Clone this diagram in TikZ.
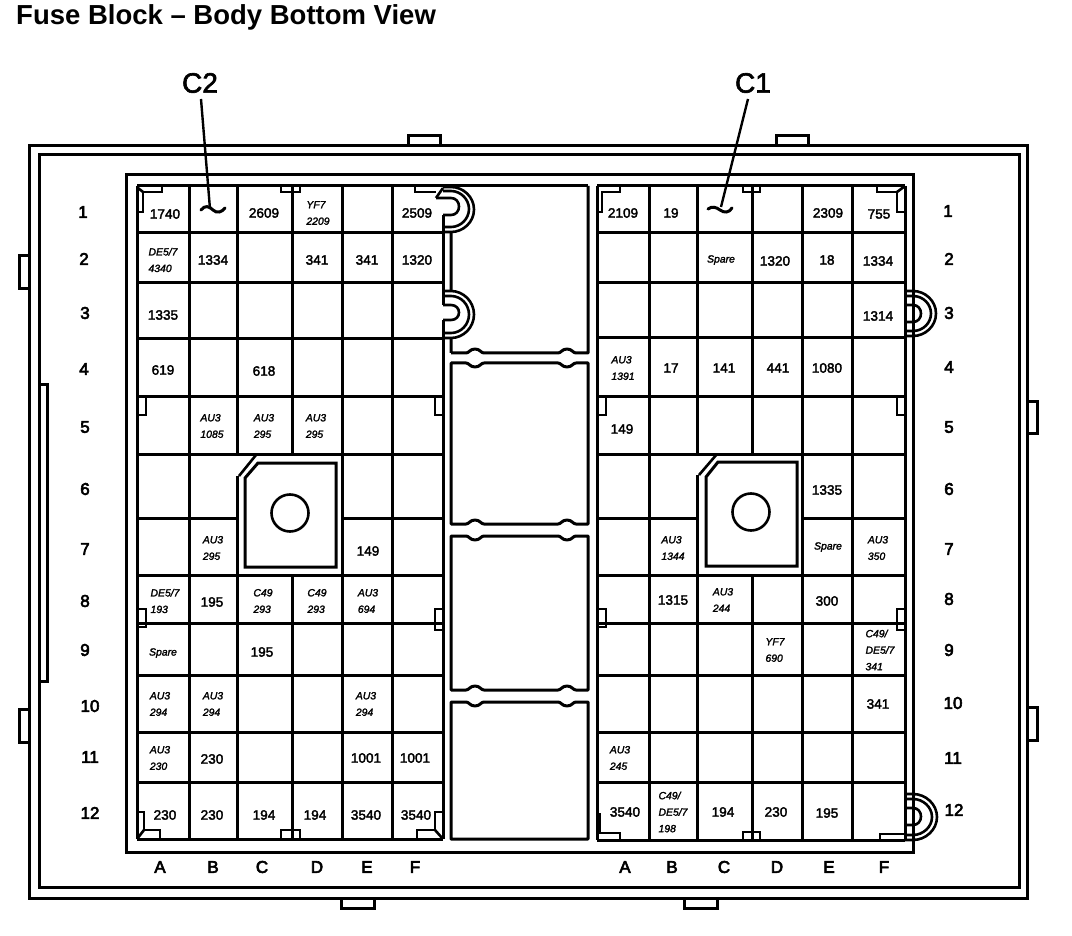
\documentclass[tikz,border=0pt]{standalone}
\usepackage{fontspec}
\setmainfont{Liberation Sans}
\newfontfamily\cellfont[FakeBold=2.4]{Liberation Sans}
\newfontfamily\italfont[FakeBold=2.0]{Liberation Sans}
\newfontfamily\labfont[FakeBold=3.6]{Liberation Sans}
\newfontfamily\connfont[FakeBold=2.2]{Liberation Sans}
\tikzset{
  ln/.style={draw=black,line width=3pt,line join=miter},
  thin ln/.style={draw=black,line width=2.6pt,line join=miter},
  num/.style={font=\cellfont\fontsize{13.6}{16}\selectfont,inner sep=0pt,text=black},
  ital/.style={font=\italfont\itshape\fontsize{10.4}{16.5}\selectfont,inner sep=0pt,align=left,text=black},
  lab/.style={font=\labfont\fontsize{17}{20}\selectfont,inner sep=0pt,text=black},
  conn/.style={font=\connfont\fontsize{28}{30}\selectfont,inner sep=0pt,text=black},
}
\begin{document}
\begin{tikzpicture}[x=1pt,y=-1pt]
\useasboundingbox (0,0) rectangle (1072,936);
\fill[white] (0,0) rectangle (1072,936);
\node[anchor=west,inner sep=0pt,font=\bfseries\fontsize{27.5}{30}\selectfont] (title) at (16,17) {Fuse Block -- Body Bottom View};
% tabs
\draw[ln] (408,146) -- (408,136) -- (440,136) -- (440,146);
\draw[ln] (776,146) -- (776,136) -- (808,136) -- (808,146);
\draw[ln] (29,256) -- (19,256) -- (19,289) -- (29,289);
\draw[ln] (29,709) -- (19,709) -- (19,742) -- (29,742);
\draw[ln] (39,384) -- (47,384) -- (47,681) -- (39,681);
\draw[ln] (1027,401) -- (1037,401) -- (1037,433) -- (1027,433);
\draw[ln] (1027,707) -- (1037,707) -- (1037,740) -- (1027,740);
\draw[ln] (341,898) -- (341,908) -- (374,908) -- (374,898);
\draw[ln] (684,898) -- (684,908) -- (717,908) -- (717,898);
% frames
\draw[ln] (29,146) rectangle (1027,898);
\draw[ln] (39,155) rectangle (1019,887);
\draw[ln] (126,175) rectangle (913,852);
% left grid horizontals
\draw[ln] (137,186) -- (588,186);
\foreach \yy in {233,283,339,396,454,575,623,675,732,782} \draw[ln] (137,\yy) -- (443,\yy);
\draw[ln] (137,518) -- (237,518) (342,518) -- (443,518);
\draw[ln] (137,839) -- (443,839);
% left grid verticals
\draw[ln] (137,186) -- (137,839);
\draw[ln] (189,186) -- (189,839);
\draw[ln] (237,186) -- (237,454) (237,476) -- (237,839);
\draw[ln] (292,186) -- (292,454) (292,575) -- (292,839);
\draw[ln] (342,186) -- (342,839);
\draw[ln] (392,186) -- (392,839);
\draw[ln] (443,215) -- (443,305) (443,320) -- (443,839);
% left relay
\draw[thin ln] (239,476) -- (256,455);
\draw[ln] (245,478) -- (258,463) -- (336,463) -- (336,567) -- (245,567) -- cycle;
\draw[line width=2.6pt] (290,513) circle[radius=18.5pt];
% left corners
\draw[thin ln] (162,186) -- (162,192) -- (143,192) -- (143,212) -- (137,212);
\draw[thin ln] (138,188) -- (143,192);
\draw[thin ln] (281,186) -- (281,192) -- (300,192) -- (300,186);
\draw[thin ln] (415,186) -- (415,192) -- (436,192);
\draw[thin ln] (137,396) -- (146,396) -- (146,415) -- (137,415);
\draw[thin ln] (443,396) -- (435,396) -- (435,415) -- (443,415);
\draw[thin ln] (137,609) -- (146,609) -- (146,627) -- (137,627);
\draw[thin ln] (443,609) -- (435,609) -- (435,630) -- (443,630);
\draw[thin ln] (137,812) -- (144,812) -- (144,830) -- (160,830) -- (160,839);
\draw[thin ln] (144,830) -- (137,839);
\draw[thin ln] (281,839) -- (281,830) -- (300,830) -- (300,839);
\draw[thin ln] (417,839) -- (417,830) -- (435,830) -- (435,812) -- (443,812);
\draw[thin ln] (435,830) -- (443,839);
% upper and lower horseshoes
\draw[thin ln] (443,187) -- (451,187) .. controls (463.4,187) and (474,197) .. (474,209.5) .. controls (474,222) and (463.4,232) .. (451,232) -- (443,232);
\draw[thin ln] (443,191) -- (451,191) .. controls (461,191) and (469,199.5) .. (469,209) .. controls (469,218.5) and (461,227) .. (451,227) -- (443,227);
\draw[thin ln] (436,198) -- (451,198) .. controls (456,198) and (459,202) .. (459,206.5) .. controls (459,211) and (456,215) .. (451,215) -- (443,215);
\draw[thin ln] (436,198) -- (443,188);
\draw[thin ln] (443,291) -- (451,291) .. controls (463.4,291) and (474,301.5) .. (474,314.5) .. controls (474,327.5) and (463.4,338) .. (451,338) -- (443,338);
\draw[thin ln] (443,296) -- (451,296) .. controls (461,296) and (469,304.5) .. (469,314.5) .. controls (469,324.5) and (461,333) .. (451,333) -- (443,333);
\draw[thin ln] (443,305) -- (451,305) .. controls (456,305) and (459,308.5) .. (459,312.5) .. controls (459,316.5) and (456,320) .. (451,320) -- (443,320);
% centre blocks
\newcommand{\botnotch}[1]{-- ({#1+9},\yb) .. controls ({#1+6},\yb) and ({#1+5},{\yb-4}) .. (#1,{\yb-4}) .. controls ({#1-5},{\yb-4}) and ({#1-6},\yb) .. ({#1-9},\yb)}
\newcommand{\topnotch}[1]{-- ({#1-9},\yt) .. controls ({#1-6},\yt) and ({#1-5},{\yt+4}) .. (#1,{\yt+4}) .. controls ({#1+5},{\yt+4}) and ({#1+6},\yt) .. ({#1+9},\yt)}
\def\yb{353}
\draw[ln,line join=round] (451,232) -- (451,291) (451,338) -- (451,353) (588,186) -- (588,\yb) \botnotch{567} \botnotch{475} -- (451,353);
\def\yt{363}\def\yb{524}
\draw[ln,line join=round] (451,\yb) -- (451,\yt) \topnotch{475} \topnotch{567} -- (588,\yt) -- (588,\yb) \botnotch{567} \botnotch{475} -- cycle;
\def\yt{536}\def\yb{690}
\draw[ln,line join=round] (451,\yb) -- (451,\yt) \topnotch{475} \topnotch{567} -- (588,\yt) -- (588,\yb) \botnotch{567} \botnotch{475} -- cycle;
\def\yt{702}
\draw[ln,line join=round] (451,839) -- (451,\yt) \topnotch{475} \topnotch{567} -- (588,\yt) -- (588,839) -- cycle;
% right grid
\foreach \yy in {233,283,338,396,454,575,623,675,732,782} \draw[ln] (597,\yy) -- (905,\yy);
\draw[ln] (597,518) -- (697,518) (803,518) -- (905,518);
\draw[ln] (597,186) -- (905,186);
\draw[ln] (597,840) -- (905,840);
\draw[ln] (597,186) -- (597,840);
\draw[ln] (649,186) -- (649,840);
\draw[ln] (697,186) -- (697,454) (697,475) -- (697,840);
\draw[ln] (752,186) -- (752,454) (752,574) -- (752,840);
\draw[ln] (802,186) -- (802,840);
\draw[ln] (852,186) -- (852,840);
\draw[ln] (905,186) -- (905,840);
% right relay
\draw[thin ln] (699,475) -- (717,454);
\draw[ln] (706,477) -- (718,462) -- (797,462) -- (797,566) -- (706,566) -- cycle;
\draw[line width=2.6pt] (751,512) circle[radius=18.5pt];
% right corners
\draw[thin ln] (620,186) -- (620,192) -- (602,192) -- (602,212) -- (597,212);
\draw[thin ln] (743,186) -- (743,192) -- (760,192) -- (760,186);
\draw[thin ln] (877,186) -- (877,192) -- (897,192) -- (897,212) -- (905,212);
\draw[thin ln] (897,192) -- (905,186);
\draw[thin ln] (597,396) -- (606,396) -- (606,415) -- (597,415);
\draw[thin ln] (905,396) -- (897,396) -- (897,415) -- (905,415);
\draw[thin ln] (597,609) -- (606,609) -- (606,627) -- (597,627);
\draw[thin ln] (905,609) -- (897,609) -- (897,630) -- (905,630);
\draw[thin ln] (600,813) -- (600,833) -- (620,833) -- (620,840);
\draw[thin ln] (743,840) -- (743,832) -- (760,832) -- (760,840);
\draw[thin ln] (880,840) -- (880,834) -- (905,834);
% right horseshoes
\draw[thin ln] (905,291) -- (913,291) .. controls (925.4,291) and (936,301) .. (936,313.5) .. controls (936,326) and (925.4,336) .. (913,336) -- (905,336);
\draw[thin ln] (905,296) -- (913,296) .. controls (923,296) and (931,304) .. (931,313.5) .. controls (931,323) and (923,331) .. (913,331) -- (905,331);
\draw[thin ln] (905,305) -- (913,305) .. controls (918,305) and (921,309) .. (921,313.5) .. controls (921,318) and (918,322) .. (913,322) -- (905,322);
\draw[thin ln] (905,794) -- (913,794) .. controls (926,794) and (937,804.5) .. (937,817) .. controls (937,829.5) and (926,840) .. (913,840) -- (905,840);
\draw[thin ln] (905,799) -- (913,799) .. controls (923,799) and (932,807) .. (932,817) .. controls (932,827) and (923,835) .. (913,835) -- (905,835);
\draw[thin ln] (905,808) -- (913,808) .. controls (918,808) and (921,812) .. (921,816.5) .. controls (921,821) and (918,825) .. (913,825) -- (905,825);
% connector labels and leaders
\node[conn] (c2) at (200,83) {C2};
\node[conn] (c1) at (753,83) {C1};
\coordinate (c2end) at (210,209);
\coordinate (c1end) at (721,207);
\draw[line width=2.4pt] (201,99) -- (c2end);
\draw[line width=2.4pt] (748,99) -- (c1end);
\draw[line width=3pt,line cap=round] (201,210) .. controls (205,205) and (209,206) .. (213,210) .. controls (217,214) and (222,212) .. (225,208);
\draw[line width=3pt,line cap=round] (708,209) .. controls (712,206) and (716,207) .. (720,210) .. controls (724,213) and (729,213) .. (732,208);
% numbers
\foreach \xx/\yy/\tt [count=\i] in {
165/214/1740,264/213/2609,417/213/2509,213/260/1334,317/260/341,367/260/341,417/260/1320,163/315/1335,163/370/619,264/371/618,368/551/149,212/602/195,262/652/195,212/759/230,366/758/1001,415/758/1001,165/815/230,212/815/230,264/815/194,315/815/194,366/815/3540,416/815/3540,
623/213/2109,671/213/19,828/213/2309,879/214/755,775/261/1320,827/260/18,878/261/1334,878/316/1314,671/368/17,724/368/141,778/368/441,827/368/1080,622/429/149,827/490/1335,673/600/1315,827/601/300,878/704/341,625/812/3540,723/812/194,776/812/230,827/813/195}
  \node[num] (num\i) at (\xx,\yy) {\tt};
% italic notes
\foreach \xx/\yy/\tt [count=\i] in {
318/213/{YF7\\2209},163/260/{DE5/7\\4340},212/426/{AU3\\1085},264/426/{AU3\\295},316/426/{AU3\\295},213/548/{AU3\\295},165/601/{DE5/7\\193},263/601/{C49\\293},317/601/{C49\\293},368/601/{AU3\\694},163/653/{Spare},160/704/{AU3\\294},213/704/{AU3\\294},366/704/{AU3\\294},160/758/{AU3\\230},
721/260/{Spare},623/368/{AU3\\1391},673/548/{AU3\\1344},828/547/{Spare},878/548/{AU3\\350},723/600/{AU3\\244},775/650/{YF7\\690},880/650/{C49/\\DE5/7\\341},620/758/{AU3\\245},673/812/{C49/\\DE5/7\\198}}
  \node[ital] (note\i) at (\xx,\yy) {\tt};
% row labels
\foreach \xx/\yy/\tt [count=\i] in {83/212/1,84/259/2,85/313/3,84/369/4,85/427/5,85/489/6,85/549/7,85/601/8,85/650/9,90/706/10,90/757/11,90/813/12,
948/211/1,949/259/2,949/313/3,949/367/4,949/427/5,949/489/6,949/549/7,949/599/8,949/650/9,953/703/10,953/758/11,954/810/12}
  \node[lab] (row\i) at (\xx,\yy) {\tt};
\foreach \xx/\tt [count=\i] in {160/A,213/B,262/C,317/D,367/E,415/F,625/A,672/B,724/C,777/D,829/E,884/F}
  \node[lab] (col\i) at (\xx,867) {\tt};
\end{tikzpicture}
\end{document}
